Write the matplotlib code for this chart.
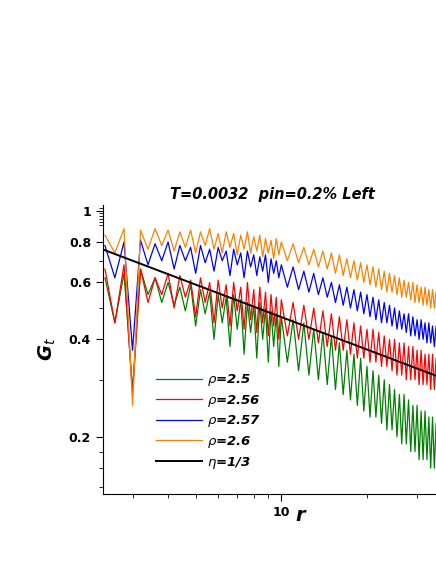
import numpy as np
import matplotlib
matplotlib.use("Agg")
import matplotlib.pyplot as plt
from matplotlib.ticker import FixedLocator, NullFormatter, FixedFormatter

# r grid: 2.4..9.8 step 0.2, then 10..37 step 0.5
r = np.round(np.concatenate([np.arange(2.4, 9.9, 0.2), np.arange(10, 37.1, 0.5)]), 2)

g_26 = [0.84, 0.74, 0.88, 0.25, 0.87, 0.76, 0.88, 0.78, 0.87, 0.75, 0.86, 0.77, 0.87, 0.74, 0.86, 0.78, 0.88, 0.76, 0.85, 0.74,
        0.86, 0.77, 0.85, 0.73, 0.84, 0.76, 0.86, 0.74, 0.83, 0.75, 0.84, 0.72, 0.82, 0.74, 0.81, 0.71, 0.82, 0.73,
        0.80, 0.70, 0.79, 0.69, 0.77, 0.68, 0.76, 0.67, 0.75, 0.66, 0.74,
        0.64, 0.73, 0.63, 0.71, 0.62, 0.70, 0.61, 0.69, 0.60, 0.68, 0.59, 0.67, 0.58, 0.66, 0.57, 0.65, 0.56, 0.64, 0.56, 0.63,
        0.55, 0.62, 0.54, 0.61, 0.54, 0.60, 0.53, 0.60, 0.52, 0.59, 0.52, 0.58, 0.51, 0.58, 0.51, 0.57, 0.50, 0.57, 0.50, 0.56,
        0.49, 0.56, 0.49, 0.55]
g_257 = [0.78, 0.62, 0.80, 0.37, 0.81, 0.68, 0.79, 0.70, 0.80, 0.66, 0.78, 0.70, 0.77, 0.64, 0.78, 0.69, 0.76, 0.65, 0.77, 0.70,
         0.75, 0.63, 0.76, 0.68, 0.74, 0.62, 0.75, 0.67, 0.73, 0.63, 0.72, 0.65, 0.73, 0.60, 0.71, 0.64, 0.70, 0.62,
         0.68, 0.58, 0.67, 0.57, 0.65, 0.56, 0.64, 0.55, 0.62, 0.54, 0.60,
         0.52, 0.59, 0.51, 0.58, 0.50, 0.57, 0.49, 0.56, 0.48, 0.55, 0.47, 0.54, 0.46, 0.53, 0.45, 0.52, 0.45, 0.51, 0.44, 0.50,
         0.43, 0.49, 0.43, 0.48, 0.42, 0.48, 0.41, 0.47, 0.41, 0.46, 0.40, 0.46, 0.40, 0.45, 0.39, 0.45, 0.39, 0.44, 0.38, 0.44,
         0.38, 0.43, 0.38, 0.43]
g_256 = [0.66, 0.45, 0.68, 0.27, 0.66, 0.52, 0.62, 0.55, 0.64, 0.50, 0.63, 0.54, 0.61, 0.47, 0.62, 0.52, 0.60, 0.45, 0.61, 0.50,
         0.59, 0.44, 0.60, 0.49, 0.58, 0.43, 0.60, 0.46, 0.57, 0.42, 0.58, 0.45, 0.56, 0.41, 0.55, 0.44, 0.54, 0.40,
         0.53, 0.41, 0.52, 0.40, 0.51, 0.40, 0.50, 0.39, 0.49, 0.38, 0.48,
         0.37, 0.47, 0.37, 0.46, 0.36, 0.45, 0.35, 0.44, 0.35, 0.43, 0.34, 0.43, 0.34, 0.42, 0.33, 0.41, 0.33, 0.40, 0.32, 0.40,
         0.31, 0.39, 0.31, 0.39, 0.30, 0.38, 0.30, 0.38, 0.30, 0.37, 0.29, 0.37, 0.29, 0.36, 0.29, 0.36, 0.28, 0.36, 0.28, 0.35,
         0.28, 0.35, 0.28, 0.35]
g_25 = [0.62, 0.45, 0.64, 0.28, 0.66, 0.55, 0.62, 0.52, 0.60, 0.51, 0.58, 0.49, 0.59, 0.44, 0.57, 0.48, 0.56, 0.40, 0.55, 0.45,
        0.54, 0.38, 0.55, 0.43, 0.53, 0.36, 0.52, 0.42, 0.51, 0.35, 0.52, 0.40, 0.50, 0.34, 0.49, 0.38, 0.48, 0.33,
        0.47, 0.34, 0.46, 0.32, 0.45, 0.31, 0.43, 0.30, 0.42, 0.29, 0.41,
        0.28, 0.39, 0.27, 0.37, 0.26, 0.36, 0.25, 0.35, 0.24, 0.33, 0.23, 0.32, 0.23, 0.31, 0.22, 0.30, 0.21, 0.29, 0.21, 0.28,
        0.20, 0.27, 0.19, 0.27, 0.19, 0.26, 0.18, 0.25, 0.18, 0.25, 0.17, 0.24, 0.17, 0.24, 0.17, 0.23, 0.16, 0.23, 0.16, 0.22,
        0.16, 0.22, 0.16, 0.22]
eta = 1 / 3
amp = 1.01

series = [
    (g_25, "#008000", r"$\rho$=2.5"),
    (g_256, "#ff0000", r"$\rho$=2.56"),
    (g_257, "#0000ff", r"$\rho$=2.57"),
    (g_26, "#ff8000", r"$\rho$=2.6"),
]

fig = plt.figure(figsize=(4.36, 5.64), dpi=100)
ax = fig.add_axes([0.236, 0.124, 0.78, 0.513])
ax.set_xscale("log"); ax.set_yscale("log")

n = len(r)
for vals, col, lab in series:
    ax.plot(r, vals[:n], color=col, lw=0.9, label=lab)
rr = np.array([2.3, 40])
ax.plot(rr, amp * rr ** (-eta), color="black", lw=1.4, label=r"$\eta$=1/3")

ax.set_xlim(2.36, 37)
ax.set_ylim(0.133, 1.043)
ax.xaxis.set_major_locator(FixedLocator([10]))
ax.xaxis.set_major_formatter(FixedFormatter(["10"]))
ax.xaxis.set_minor_locator(FixedLocator([3, 4, 5, 6, 7, 8, 9, 20, 30]))
ax.xaxis.set_minor_formatter(NullFormatter())
ax.yaxis.set_major_locator(FixedLocator([0.2, 0.4, 0.6, 0.8, 1.0]))
ax.yaxis.set_major_formatter(FixedFormatter(["0.2", "0.4", "0.6", "0.8", "1"]))
ax.yaxis.set_minor_locator(FixedLocator([0.14, 0.16, 0.18, 0.3, 0.5, 0.7, 0.9, 0.92, 0.94, 0.96, 0.98, 1.02]))
ax.yaxis.set_minor_formatter(NullFormatter())
for lab in ax.get_xticklabels() + ax.get_yticklabels():
    lab.set_fontweight("bold")
ax.tick_params(which="both", labelsize=9, direction="out")
ax.tick_params(which="major", length=5)
ax.tick_params(which="minor", length=3)
ax.spines["top"].set_visible(False)
ax.spines["right"].set_visible(False)

ax.set_title("T=0.0032  pin=0.2% Left", fontsize=10.5, fontweight="bold", style="italic", pad=4)
ax.set_ylabel(r"$\boldsymbol{G_t}$" if False else "G$_t$", fontsize=14, fontweight="bold", style="italic", labelpad=8)
ax.set_xlabel("r", fontsize=14, fontweight="bold", style="italic", labelpad=-6)
ax.xaxis.set_label_coords(0.58, -0.04)

leg = ax.legend(loc="lower left", bbox_to_anchor=(0.12, 0.04), frameon=False,
                handlelength=3.5, fontsize=9.5, labelspacing=0.35, handletextpad=0.4)
for t in leg.get_texts():
    t.set_fontweight("bold"); t.set_style("italic")

fig.savefig("out.png", dpi=100)
